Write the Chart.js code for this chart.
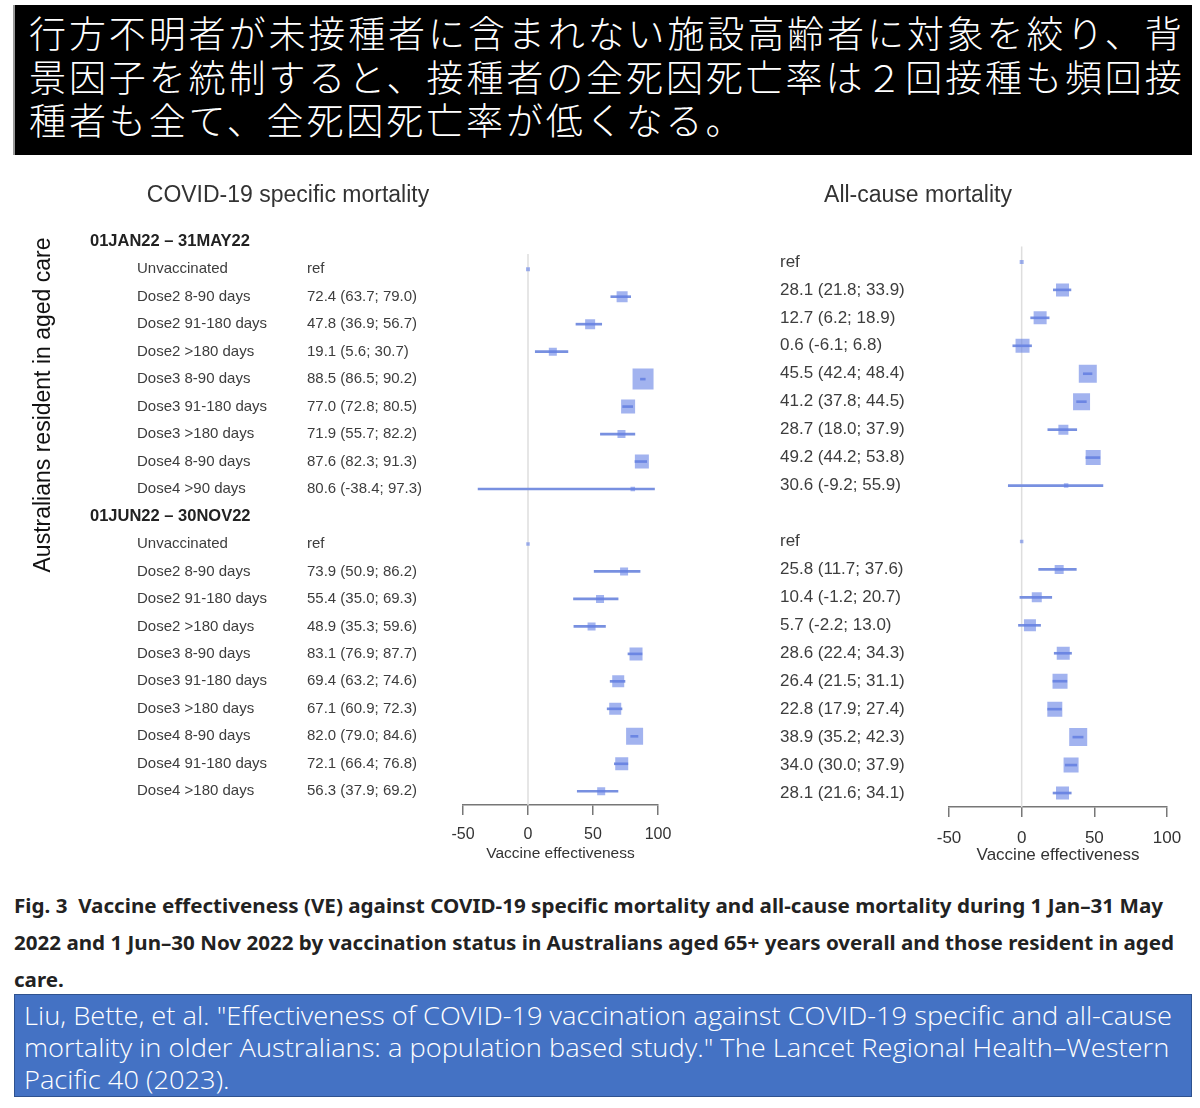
<!DOCTYPE html>
<html>
<head>
<meta charset="utf-8">
<title>VE forest plot</title>
<script src="https://cdn.jsdelivr.net/npm/chart.js@4"></script>
<style>
body{margin:0;width:1200px;height:1108px;background:#fff;position:relative;overflow:hidden;font-family:"Liberation Sans",Arial,sans-serif}
#headline{position:absolute;left:13px;top:5px;width:1179px;height:150px;background:#000;border-left:2px solid #999;box-sizing:border-box;padding:6px 0 0 14px;color:#fff;font-family:"Noto Sans CJK JP",sans-serif;font-weight:300;font-size:37px;line-height:43.5px;letter-spacing:2.9px;white-space:nowrap}
#covidChart{position:absolute;left:0;top:170px}
#allChart{position:absolute;left:700px;top:170px}
.cap{position:absolute;left:14px;font-family:"Noto Sans",sans-serif;font-weight:700;font-size:19px;line-height:19px;color:#222;white-space:nowrap;transform-origin:0 50%}
#cite{position:absolute;left:14px;top:994px;width:1178px;height:103px;background:#4472c4;border:1.5px solid #2f528f;box-sizing:border-box}
.src{position:absolute;left:24px;font-family:"Open Sans",sans-serif;font-weight:300;font-size:25px;line-height:25px;color:#fff;white-space:nowrap;transform-origin:0 50%}
</style>
</head>
<body>

<div id="headline">
  <div>行方不明者が未接種者に含まれない施設高齢者に対象を絞り、背</div>
  <div>景因子を統制すると、接種者の全死因死亡率は２回接種も頻回接</div>
  <div>種者も全て、全死因死亡率が低くなる。</div>
</div>

<canvas id="covidChart" width="700" height="700"></canvas>
<canvas id="allChart" width="500" height="700"></canvas>

<span class="cap" id="cap1" style="top:897px">Fig. 3&nbsp; Vaccine effectiveness (VE) against COVID-19 specific mortality and all-cause mortality during 1 Jan–31 May</span>
<span class="cap" id="cap2" style="top:934px">2022 and 1 Jun–30 Nov 2022 by vaccination status in Australians aged 65+ years overall and those resident in aged</span>
<span class="cap" id="cap3" style="top:971px">care.</span>

<div id="cite"></div>
<span class="src" id="src1" style="top:1003px">Liu, Bette, et al. "Effectiveness of COVID-19 vaccination against COVID-19 specific and all-cause</span>
<span class="src" id="src2" style="top:1035px">mortality in older Australians: a population based study." The Lancet Regional Health–Western</span>
<span class="src" id="src3" style="top:1067px">Pacific 40 (2023).</span>

<script>
var periodLabels = ['01JAN22 – 31MAY22', '01JUN22 – 30NOV22'];

var groupsJanMay = ['Unvaccinated', 'Dose2 8-90 days', 'Dose2 91-180 days', 'Dose2 >180 days',
    'Dose3 8-90 days', 'Dose3 91-180 days', 'Dose3 >180 days', 'Dose4 8-90 days', 'Dose4 >90 days'];
var groupsJunNov = ['Unvaccinated', 'Dose2 8-90 days', 'Dose2 91-180 days', 'Dose2 >180 days',
    'Dose3 8-90 days', 'Dose3 91-180 days', 'Dose3 >180 days', 'Dose4 8-90 days', 'Dose4 91-180 days', 'Dose4 >180 days'];

// VE in %, with 95% CI. Unvaccinated is the reference (0, no interval)
var covidVeJanMay = [0, 72.4, 47.8, 19.1, 88.5, 77.0, 71.9, 87.6, 80.6];
var covidLoJanMay = [null, 63.7, 36.9, 5.6, 86.5, 72.8, 55.7, 82.3, -38.4];
var covidHiJanMay = [null, 79.0, 56.7, 30.7, 90.2, 80.5, 82.2, 91.3, 97.3];
var covidVeJunNov = [0, 73.9, 55.4, 48.9, 83.1, 69.4, 67.1, 82.0, 72.1, 56.3];
var covidLoJunNov = [null, 50.9, 35.0, 35.3, 76.9, 63.2, 60.9, 79.0, 66.4, 37.9];
var covidHiJunNov = [null, 86.2, 69.3, 59.6, 87.7, 74.6, 72.3, 84.6, 76.8, 69.2];

var allVeJanMay = [0, 28.1, 12.7, 0.6, 45.5, 41.2, 28.7, 49.2, 30.6];
var allLoJanMay = [null, 21.8, 6.2, -6.1, 42.4, 37.8, 18.0, 44.2, -9.2];
var allHiJanMay = [null, 33.9, 18.9, 6.8, 48.4, 44.5, 37.9, 53.8, 55.9];
var allVeJunNov = [0, 25.8, 10.4, 5.7, 28.6, 26.4, 22.8, 38.9, 34.0, 28.1];
var allLoJunNov = [null, 11.7, -1.2, -2.2, 22.4, 21.5, 17.9, 35.2, 30.0, 21.6];
var allHiJunNov = [null, 37.6, 20.7, 13.0, 34.3, 31.1, 27.4, 42.3, 37.9, 34.1];

// relative weight of each estimate (box size in the plot)
var covidWtJanMay = [4, 11, 10, 8, 21, 14, 8, 14, 4.5];
var covidWtJunNov = [3.5, 8, 8, 8, 13, 12, 12, 17, 13, 8];
var allWtJanMay = [4, 13, 13, 14, 18, 17, 10, 15, 4.5];
var allWtJunNov = [3.5, 9, 10, 12, 13, 15, 15, 18, 15, 13];

var xTicks = [-50, 0, 50, 100];

function buildRows(ve1, lo1, hi1, wt1, ve2, lo2, hi2, wt2)
{
    var rows = [{head: periodLabels[0]}];
    groupsJanMay.forEach(function (g, i) {
        rows.push({label: g, ve: ve1[i], lo: lo1[i], hi: hi1[i], wt: wt1[i]});
    });
    rows.push({head: periodLabels[1]});
    groupsJunNov.forEach(function (g, i) {
        rows.push({label: g, ve: ve2[i], lo: lo2[i], hi: hi2[i], wt: wt2[i]});
    });
    return rows;
}

function estText(r)
{
    if (r.lo === null) return 'ref';
    return r.ve.toFixed(1) + ' (' + r.lo.toFixed(1) + '; ' + r.hi.toFixed(1) + ')';
}

// text columns, panel title and the zero line
function textPlugin(rows, o)
{
    return {
        id: 'forestText',
        beforeDatasetsDraw: function (chart) {
            var ctx = chart.ctx, ys = chart.scales.y;
            var x0 = chart.scales.x.getPixelForValue(0);
            var band = ys.getPixelForValue(1) - ys.getPixelForValue(0);
            ctx.save();
            ctx.strokeStyle = '#dedede';
            ctx.lineWidth = 1.5;
            ctx.beginPath();
            ctx.moveTo(x0, ys.getPixelForValue(1) - band * 0.55);
            ctx.lineTo(x0, chart.chartArea.bottom);
            ctx.stroke();
            ctx.restore();
        },
        afterDatasetsDraw: function (chart) {
            var ctx = chart.ctx, ys = chart.scales.y;
            ctx.save();
            ctx.textBaseline = 'middle';
            ctx.textAlign = 'center';
            ctx.fillStyle = '#333';
            ctx.font = o.titleSize + 'px "Liberation Sans"';
            ctx.fillText(o.title, o.titleX, o.titleY);

            if (o.sideLabel) {
                ctx.save();
                ctx.translate(o.sideX, o.sideY);
                ctx.rotate(-Math.PI / 2);
                ctx.fillStyle = '#111';
                ctx.font = o.titleSize + 'px "Liberation Sans"';
                ctx.fillText(o.sideLabel, 0, 0);
                ctx.restore();
            }

            ctx.textAlign = 'left';
            rows.forEach(function (r, i) {
                var y = ys.getPixelForValue(i);
                if (r.head) {
                    if (o.labelX !== null) {
                        ctx.font = 'bold ' + (o.textSize + 1.5) + 'px "Liberation Sans"';
                        ctx.fillStyle = '#222';
                        ctx.fillText(r.head, o.headX, y);
                    }
                    return;
                }
                ctx.font = o.textSize + 'px "Liberation Sans"';
                ctx.fillStyle = '#3d3d3d';
                if (o.labelX !== null) ctx.fillText(r.label, o.labelX, y);
                ctx.fillText(estText(r), o.estX, y);
            });
            ctx.restore();
        }
    };
}

function drawForest(canvasId, rows, o)
{
    var ids = rows.map(function (r, i) { return 'row' + i; });
    var ciData = [], veData = [], sizes = [];

    rows.forEach(function (r, i) {
        if (r.head) return;
        if (r.lo !== null) ciData.push({y: ids[i], x: [r.lo, r.hi]});
        veData.push({x: r.ve, y: ids[i]});
        sizes.push(r.wt * o.boxScale / Math.SQRT2);
    });

    return new Chart(document.getElementById(canvasId), {
        type: 'bar',
        data: {
            labels: ids,
            datasets: [
                {
                    type: 'bar',
                    data: ciData,
                    backgroundColor: '#7890e0',
                    barThickness: 2,
                    borderWidth: 0,
                    order: 2
                },
                {
                    type: 'scatter',
                    data: veData,
                    pointStyle: 'rect',
                    pointRadius: sizes,
                    pointHoverRadius: sizes,
                    backgroundColor: 'rgba(100,128,228,0.6)',
                    borderWidth: 0,
                    order: 1
                }
            ]
        },
        options: {
            indexAxis: 'y',
            responsive: false,
            animation: false,
            events: [],
            layout: {padding: o.padding},
            plugins: {
                legend: {display: false},
                tooltip: {enabled: false},
                title: {display: false}
            },
            scales: {
                x: {
                    type: 'linear',
                    min: -50,
                    max: 100,
                    afterBuildTicks: function (s) {
                        s.ticks = xTicks.map(function (v) { return {value: v}; });
                    },
                    afterFit: function (s) { s.height = o.axisHeight; },
                    grid: {display: true, drawOnChartArea: false, drawTicks: true, tickLength: 10, color: '#777', lineWidth: 1.5},
                    border: {display: true, color: '#777', width: 1.5},
                    ticks: {color: '#333', font: {size: o.tickSize, family: 'Liberation Sans'}, padding: o.tickPad, maxRotation: 0},
                    title: {
                        display: true,
                        text: 'Vaccine effectiveness',
                        color: '#333',
                        font: {size: o.axisTitleSize, family: 'Liberation Sans'},
                        padding: {top: 0, bottom: o.axisTitlePad}
                    }
                },
                y: {type: 'category', labels: ids, offset: true, display: false}
            }
        },
        plugins: [textPlugin(rows, o)]
    });
}

var covidRows = buildRows(covidVeJanMay, covidLoJanMay, covidHiJanMay, covidWtJanMay,
    covidVeJunNov, covidLoJunNov, covidHiJunNov, covidWtJunNov);
var allRows = buildRows(allVeJanMay, allLoJanMay, allHiJanMay, allWtJanMay,
    allVeJunNov, allLoJunNov, allHiJunNov, allWtJunNov);

drawForest('covidChart', covidRows, {
    padding: {left: 463, right: 42, top: 58, bottom: 0},
    axisHeight: 65, tickSize: 16, tickPad: 10, axisTitleSize: 15.5, axisTitlePad: 7,
    boxScale: 1,
    title: 'COVID-19 specific mortality', titleSize: 23, titleX: 288, titleY: 26,
    sideLabel: 'Australians resident in aged care', sideX: 44, sideY: 235,
    textSize: 15, headX: 90, labelX: 137, estX: 307
});

drawForest('allChart', allRows, {
    padding: {left: 249, right: 33, top: 50, bottom: 0},
    axisHeight: 63, tickSize: 17, tickPad: 11, axisTitleSize: 17, axisTitlePad: 4,
    boxScale: 1,
    title: 'All-cause mortality', titleSize: 23, titleX: 218, titleY: 26,
    sideLabel: null,
    textSize: 17, headX: 0, labelX: null, estX: 80
});

// squeeze caption lines to the width they take in the figure
function fitLine(id, target)
{
    var el = document.getElementById(id);
    var k = target / el.getBoundingClientRect().width;
    el.style.transform = 'scaleX(' + k + ')';
    return k;
}
function scaleLine(id, k)
{
    document.getElementById(id).style.transform = 'scaleX(' + k + ')';
}

var k1 = fitLine('cap1', 1149);
var k2 = fitLine('cap2', 1160);
scaleLine('cap3', (k1 + k2) / 2);
var ks = fitLine('src1', 1148);
scaleLine('src2', ks);
scaleLine('src3', ks);
</script>
</body>
</html>
